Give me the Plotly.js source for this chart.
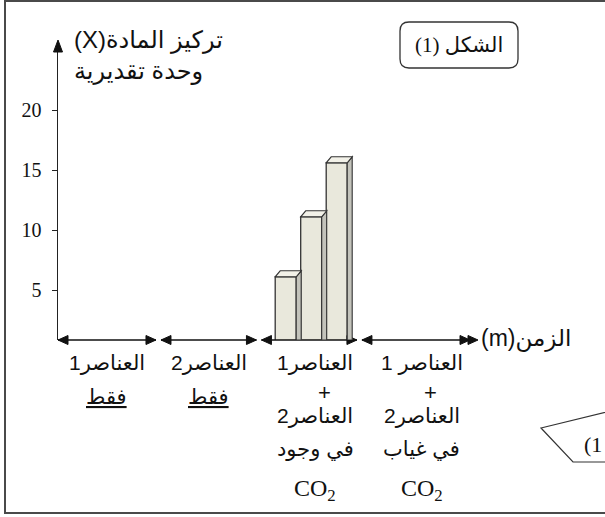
<!DOCTYPE html>
<html><head><meta charset="utf-8">
<script src="https://cdn.plot.ly/plotly-3.0.1.min.js"></script>
<style>html,body{margin:0;padding:0;background:#fff;}#chart{width:605px;height:517px;}</style>
</head><body><div id="chart"></div>
<script>
// ---------- data ----------
const categories = ['العناصر1 فقط', 'العناصر2 فقط', 'العناصر1 + العناصر2 في وجود CO2', 'العناصر1 + العناصر2 في غياب CO2'];
const categoryLines = [
  ['العناصر1', '<u>فقط</u>'],
  ['العناصر2', '<u>فقط</u>'],
  ['العناصر1', '+', 'العناصر2', 'في وجود', 'CO<sub>2</sub>'],
  ['العناصر 1', '+', 'العناصر2', 'في غياب', 'CO<sub>2</sub>']
];
const barCategoryIndex = 2;
const barValues = [6.1, 11.1, 15.6];
const yTickValues = [5, 10, 15, 20];
const yTickLabels = ['5', '10', '15', '20'];
const yTitleLines = ['\u202Bتركيز المادة(X)\u202C', 'وحدة تقديرية'];
const xTitle = '\u202Bالزمن(m)\u202C';
const figureLabel = '\u202Bالشكل (1)\u202C';
const cornerLabel = '(1';

// ---------- geometry ----------
const W = 605, H = 517;
const L = 58, R = 480, T = 42, B = 340;          // plot box in pixels
const xMax = 4.2;
const pxPerX = (R - L) / xMax;
const pxPerY = 12, zeroPx = 350;
const yMin = (zeroPx - B) / pxPerY, yMax = (zeroPx - T) / pxPerY;
const px2x = px => (px - L) / (R - L);
const px2y = py => (B - py) / (B - T);

const sans = 'Liberation Sans, DejaVu Sans, sans-serif';
const serif = 'Liberation Serif, DejaVu Serif, DejaVu Sans, serif';
const ink = '#111';

// bars
const barWidth = 21 / pxPerX, barStep = 25.5 / pxPerX;
const groupCenter = barCategoryIndex + 0.52;
const barX = barValues.map((_, k) => groupCenter + (k - (barValues.length - 1) / 2) * barStep);

const shapes = [];
const annotations = [];

// outer frame
shapes.push({type: 'rect', xref: 'paper', yref: 'paper', x0: px2x(5), x1: px2x(615), y0: px2y(1), y1: px2y(513),
  line: {color: '#4a4a4a', width: 2}, fillcolor: 'rgba(0,0,0,0)', layer: 'below'});

// figure label box (rounded)
(function () {
  const x0 = 400, x1 = 518, y0 = 22, y1 = 68, r = 9;
  const P = (x, y) => px2x(x) + ',' + px2y(y);
  const d = 'M' + P(x0 + r, y0) + 'L' + P(x1 - r, y0) + 'Q' + P(x1, y0) + ' ' + P(x1, y0 + r) +
    'L' + P(x1, y1 - r) + 'Q' + P(x1, y1) + ' ' + P(x1 - r, y1) +
    'L' + P(x0 + r, y1) + 'Q' + P(x0, y1) + ' ' + P(x0, y1 - r) +
    'L' + P(x0, y0 + r) + 'Q' + P(x0, y0) + ' ' + P(x0 + r, y0) + 'Z';
  shapes.push({type: 'path', xref: 'paper', yref: 'paper', path: d, line: {color: '#333', width: 1.3}});
  annotations.push({xref: 'paper', yref: 'paper', x: px2x(459), y: px2y(45), text: figureLabel, showarrow: false,
    xanchor: 'center', yanchor: 'middle', font: {family: serif, size: 21, color: ink}});
})();

// bottom-right cut-off label
(function () {
  const P = (x, y) => px2x(x) + ',' + px2y(y);
  shapes.push({type: 'path', xref: 'paper', yref: 'paper',
    path: 'M' + P(615, 410) + 'L' + P(541, 428) + 'L' + P(573, 462) + 'L' + P(615, 462),
    line: {color: '#333', width: 1.2}});
  annotations.push({xref: 'paper', yref: 'paper', x: px2x(582), y: px2y(444), text: cornerLabel, showarrow: false,
    xanchor: 'left', yanchor: 'middle', font: {family: serif, size: 22, color: ink}});
})();

// y-axis arrowhead
shapes.push({type: 'path', xref: 'paper', yref: 'paper', xsizemode: 'pixel', ysizemode: 'pixel', xanchor: 0, yanchor: 1,
  path: 'M0,2L-4.5,-10L4.5,-10Z', fillcolor: '#111', line: {color: '#111', width: 1}});

// time axis: one double arrow per category section
function arrowHead(xv, dir) {
  shapes.push({type: 'path', xref: 'x', yref: 'paper', xsizemode: 'pixel', ysizemode: 'pixel', xanchor: xv, yanchor: 0,
    path: dir > 0 ? 'M0,0L-10,4.5L-10,-4.5Z' : 'M0,0L10,4.5L10,-4.5Z', fillcolor: '#111', line: {color: '#111', width: 1}});
}
const gap = 2.5 / pxPerX;
const secStart = categories.map((_, i) => i === 0 ? 0 : i + gap);
const secEnd = categories.map((_, i) => i === categories.length - 1 ? (470 - L) / pxPerX : i + 1 - gap);
categories.forEach((_, i) => {
  shapes.push({type: 'line', xref: 'x', yref: 'paper', x0: secStart[i], x1: secEnd[i], y0: 0, y1: 0,
    line: {color: '#111', width: 1.5}});
  arrowHead(secStart[i], -1);
  arrowHead(secEnd[i], 1);
});
arrowHead((478 - L) / pxPerX, 1);

// time axis title
annotations.push({xref: 'paper', yref: 'paper', x: px2x(479), y: px2y(338), text: xTitle, showarrow: false,
  xanchor: 'left', yanchor: 'middle', font: {family: sans, size: 23, color: ink}});

// y title
yTitleLines.forEach((t, j) => annotations.push({xref: 'paper', yref: 'paper', x: px2x(72), y: px2y([40, 71][j]), text: t,
  showarrow: false, xanchor: 'left', yanchor: 'middle', font: {family: sans, size: 24, color: ink}}));

// section labels
const lineY = [363, 392, 416, 449, 490];
categoryLines.forEach((lines, i) => {
  const mid = (secStart[i] + secEnd[i]) / 2;
  lines.forEach((t, j) => {
    const isChem = t.indexOf('CO') === 0;
    annotations.push({xref: 'x', yref: 'paper', x: mid, y: px2y(lineY[j] + (lines.length === 2 && j === 1 ? 4 : 0)), text: t, showarrow: false,
      xanchor: 'center', yanchor: 'middle', xshift: (t === '+' ? 9 : 0) + (i >= 2 ? 6 : 0),
      font: {family: isChem ? serif : sans, size: isChem ? 24 : (t === '+' ? 22 : 21), color: ink}});
  });
});

// 3D faces of bars
const dxu = 5 / pxPerX, dyu = 6 / pxPerY;
barValues.forEach((v, k) => {
  const xl = barX[k] - barWidth / 2, xr = barX[k] + barWidth / 2;
  const P = (x, y) => x + ',' + y;
  shapes.push({type: 'path', xref: 'x', yref: 'y',
    path: 'M' + P(xr, yMin) + 'L' + P(xr + dxu, yMin) + 'L' + P(xr + dxu, v + dyu) + 'L' + P(xr, v) + 'Z',
    fillcolor: '#c3c3bb', line: {color: '#333', width: 1.1}});
  shapes.push({type: 'path', xref: 'x', yref: 'y',
    path: 'M' + P(xl, v) + 'L' + P(xr, v) + 'L' + P(xr + dxu, v + dyu) + 'L' + P(xl + dxu, v + dyu) + 'Z',
    fillcolor: '#f2f1e8', line: {color: '#333', width: 1.1}});
});

const traces = [{
  type: 'bar', x: barX, y: barValues, width: barWidth, hoverinfo: 'skip',
  marker: {color: '#e9e8dc', line: {color: '#333', width: 1.3}}
}];

const layout = {
  width: W, height: H, margin: {l: L, r: W - R, t: T, b: H - B, pad: 0},
  paper_bgcolor: '#fff', plot_bgcolor: '#fff', showlegend: false,
  xaxis: {range: [0, xMax], visible: false, fixedrange: true},
  yaxis: {range: [yMin, yMax], showgrid: false, zeroline: false, showline: true, linecolor: '#222', linewidth: 1.5,
    ticks: 'outside', ticklen: 5, tickwidth: 1, tickcolor: '#222', tickvals: yTickValues, ticktext: yTickLabels,
    ticklabelstandoff: 6, tickfont: {family: serif, size: 20, color: ink}, fixedrange: true},
  shapes: shapes, annotations: annotations
};
Plotly.newPlot('chart', traces, layout, {staticPlot: true, displayModeBar: false});
</script></body></html>
